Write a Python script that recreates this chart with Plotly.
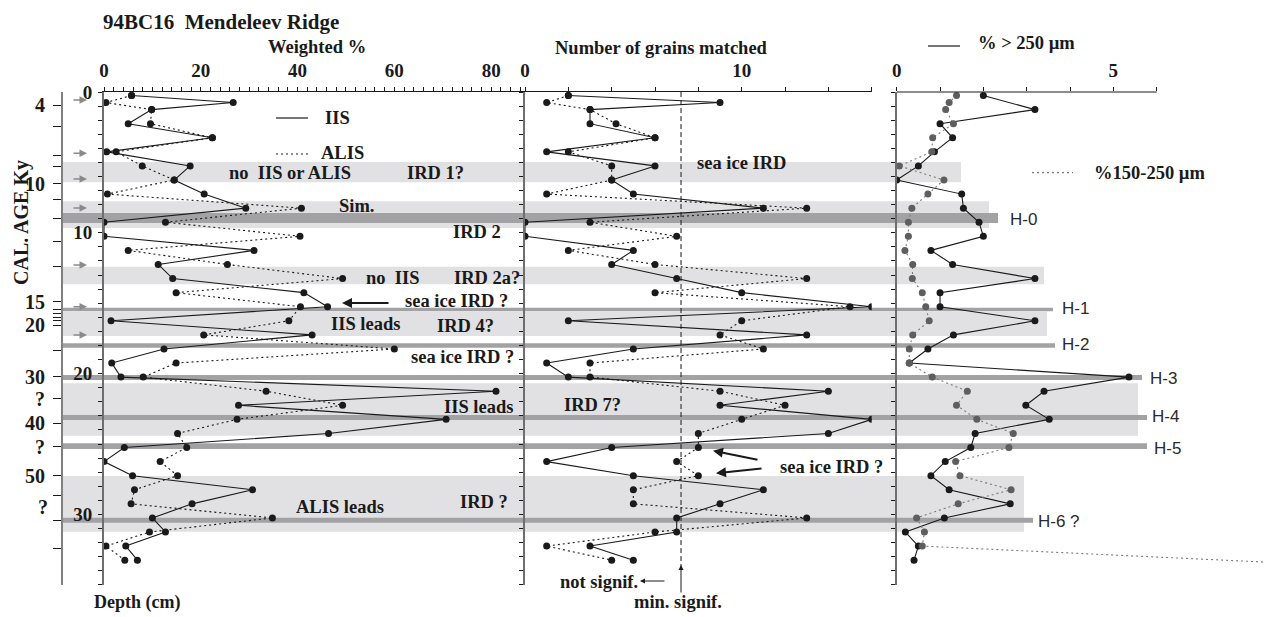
import plotly.graph_objects as go

# ---------------- data ----------------
depth_weighted = [0.25, 0.75, 1.25, 2.25, 3.25, 4.25, 5.25, 6.25, 7.25, 8.25, 9.25, 10.25,
                  11.25, 12.25, 13.25, 14.25, 15.25, 16.25, 17.25, 18.25, 19.25, 20.25,
                  21.25, 22.25, 23.25, 24.25, 25.25, 26.25, 27.25, 28.25, 29.25, 30.25,
                  31.25, 32.25, 33.25]
iis_weighted = [5.7, 26.7, 9.85, 5.0, 22.4, 0.55, 17.8, 14.5, 20.7, 29.3, 0, 0,
                31.0, 11.2, 14.2, 41.3, 46.2, 1.45, 43.0, 12.4, 1.6, 3.5,
                81.0, 27.8, 70.7, 46.4, 4.2, 0, 5.9, 30.7, 18.2, 10.0,
                12.7, 4.5, 6.9]
alis_weighted = [5.7, 0.4, 9.85, 9.6, 22.4, 2.5, 7.9, 14.5, 0.7, 40.8, 12.7, 40.5,
                 5.0, 25.5, 49.3, 14.9, 40.6, 38.2, 20.6, 60.0, 14.9, 8.1,
                 33.5, 49.3, 27.5, 15.2, 17.1, 11.6, 15.2, 6.3, 5.6, 34.8,
                 9.4, 0.4, 4.3]
iis_grains = [2, 9, 3, 3, 6, 1, 6, 4, 5, 11, 0, 0,
              5, 4, 7, 10, 16, 2, 13, 5, 1, 2,
              14, 9, 16, 14, 4, 1, 5, 11, 9, 7,
              7, 3, 5]
alis_grains = [2, 1, 3, 4.2, 6, 2, 4, 4, 1, 13, 3, 7,
               2, 6, 13, 6, 15, 10, 9, 11, 3, 3,
               9, 12, 10, 8, 8, 7, 8, 5, 5, 13,
               6, 1, 4]
min_signif_grains = 7.2

depth_coarse = [0.25, 1.25, 2.25, 3.25, 4.25, 5.25, 6.25, 7.25, 8.25, 9.25, 10.25,
                11.25, 12.25, 13.25, 14.25, 15.25, 16.25, 17.25, 18.25, 19.25, 20.25,
                21.25, 22.25, 23.25, 24.25, 25.25, 26.25, 27.25, 28.25, 29.25, 30.25,
                31.25, 32.25, 33.25]
pct_gt250 = [2.0, 3.19, 1.0, 1.29, 0.87, 0.5, 0, 1.5, 1.54, 1.9, 2.0,
             0.79, 1.29, 3.19, 1.0, 1.0, 3.19, 1.31, 0.72, 0.29, 5.36,
             3.4, 2.98, 3.52, 1.81, 1.71, 1.12, 0.79, 1.21, 2.62, 1.1,
             0.2, 0.5, 0.4]
depth_fine = [0.25, 0.75, 1.25, 2.25, 3.25, 4.25, 5.25, 6.25, 7.25, 8.25, 9.25, 10.25,
              11.25, 12.25, 13.25, 14.25, 15.25, 16.25, 17.25, 18.25, 19.25, 20.25,
              21.25, 22.25, 23.25, 24.25, 25.25, 26.25, 27.25, 28.25, 29.25, 30.25,
              31.25, 32.25, 34.25]
pct_150_250 = [1.38, 1.21, 1.13, 1.31, 0.83, 0.81, 0.06, 1.09, 0.72, 0.35, 0.27, 0.27,
               0.19, 0.37, 0.36, 0.59, 0.67, 0.75, 0.37, 0.29, 0.29, 0.82,
               1.63, 1.38, 1.85, 2.69, 2.59, 1.36, 1.46, 2.64, 1.42, 0.46,
               0.64, 0.59, 14.5]

weighted_labels = ['0', '20', '40', '60', '80']
grains_labels = ['0', '10']
pct_labels = ['0', '5']
depth_labels = ['0', '10', '20', '30']
age_tick_depths = [0.95, 2.42, 4.5, 5.31, 6.51, 7.67, 8.97, 10.63, 12.41, 14.91, 15.43, 15.72,
                   16.0, 16.24, 16.55, 18.37, 20.22, 21.78, 23.53, 25.19, 27.27, 28.69,
                   30.4, 32.41]
age_tick_labels = ['4', '', '', '', '10', '', '', '', '', '15', '', '',
                   '', '', '20', '', '30', '?', '40', '?', '50', '',
                   '', '']

# ---------------- geometry helpers (page pixels -> paper) ----------------
W, H = 1272, 617          # browser window
OX, OY = 8, 8             # default page margin of the html body
FW, FH = W - OX, H - OY   # figure size
def fx(px):
    return (px - OX) / FW
def fy(py):
    return 1 - (py - OY) / FH

Y_TOP, Y_BOT = 92, 584.8
ydom = [fy(Y_BOT), fy(Y_TOP)]
INK = '#1a1a1a'
AXG = '#6e6e6e'
SERIF = 'Liberation Serif'
DOT = '2px,3px'

def ticks(step, last, labels):
    vals = list(range(0, last + 1, step))
    txt = [v if v in labels else '' for v in [str(x) for x in vals]]
    return vals, txt

fig = go.Figure()

# panel 1
fig.add_trace(go.Scatter(x=alis_weighted, y=depth_weighted, xaxis='x', yaxis='y', mode='lines+markers',
                         line=dict(color=INK, width=1.1, dash=DOT), marker=dict(color=INK, size=7)))
fig.add_trace(go.Scatter(x=iis_weighted, y=depth_weighted, xaxis='x', yaxis='y', mode='lines+markers',
                         line=dict(color=INK, width=1.1), marker=dict(color=INK, size=7)))
# panel 2
fig.add_trace(go.Scatter(x=[min_signif_grains, min_signif_grains], y=[0, 33.7], xaxis='x2', yaxis='y2',
                         mode='lines', line=dict(color=INK, width=1, dash='5px,3px')))
fig.add_trace(go.Scatter(x=alis_grains, y=depth_weighted, xaxis='x2', yaxis='y2', mode='lines+markers',
                         line=dict(color=INK, width=1.1, dash=DOT), marker=dict(color=INK, size=7)))
fig.add_trace(go.Scatter(x=iis_grains, y=depth_weighted, xaxis='x2', yaxis='y2', mode='lines+markers',
                         line=dict(color=INK, width=1.1), marker=dict(color=INK, size=7)))
# panel 3
fig.add_trace(go.Scatter(x=pct_gt250, y=depth_coarse, xaxis='x3', yaxis='y3', mode='lines+markers',
                         line=dict(color=INK, width=1.1), marker=dict(color=INK, size=7)))
fig.add_trace(go.Scatter(x=pct_150_250, y=depth_fine, xaxis='x3', yaxis='y3', mode='lines+markers',
                         line=dict(color='#7a7a7a', width=1.1, dash=DOT), marker=dict(color='#5e5e5e', size=7)))
# age axis holder
fig.add_trace(go.Scatter(x=[None], y=[None], xaxis='x', yaxis='y4', mode='markers'))

tickfont = dict(family=SERIF, size=19, color=INK, weight='bold')

def xaxis(domain, rng, step, last, labels, anchor, showline=True):
    vals, txt = ticks(step, last, labels)
    return dict(domain=domain, range=rng, autorange=False, side='top', anchor=anchor,
                tickmode='array', tickvals=vals, ticktext=txt, ticks='outside', ticklen=4,
                tickwidth=1, tickcolor=INK, showline=showline, linecolor=INK, linewidth=1.2,
                showgrid=False, zeroline=False, tickfont=tickfont, ticklabelstandoff=2,
                automargin=False)

def yaxis(anchor, labels=True):
    vals, txt = ticks(1, 35, depth_labels)
    return dict(domain=ydom, range=[35, 0], autorange=False, anchor=anchor,
                tickmode='array', tickvals=vals, ticktext=txt, ticks='outside', ticklen=4,
                tickwidth=1, tickcolor=INK, showline=True, linecolor=AXG, linewidth=2,
                showgrid=False, zeroline=False, showticklabels=labels, tickfont=tickfont,
                ticklabelstandoff=2, automargin=False)

P3_LEFT = 896.7
P3_UNIT = 43.33
fig.update_layout(
    width=FW, height=FH, margin=dict(l=0, r=0, t=0, b=0, pad=0, autoexpand=False),
    paper_bgcolor='white', plot_bgcolor='rgba(0,0,0,0)', showlegend=False,
    xaxis=xaxis([fx(104), fx(525)], [0, 87], 2, 86, weighted_labels, 'y'),
    xaxis2=xaxis([fx(525), fx(871.7)], [0, 16], 2, 16, grains_labels, 'y2'),
    xaxis3=xaxis([fx(P3_LEFT), 1.0], [0, (W - P3_LEFT) / P3_UNIT], 1, 6, pct_labels, 'y3', showline=False),
    yaxis=yaxis('x'),
    yaxis2=yaxis('x2', labels=False),
    yaxis3=yaxis('x3', labels=False),
    yaxis4=dict(overlaying='y', anchor='free', position=fx(62), side='left', range=[35, 0],
                autorange=False, tickmode='array', tickvals=age_tick_depths, ticktext=age_tick_labels,
                ticks='outside', ticklen=8, tickwidth=1, tickcolor=INK, showline=True,
                linecolor='#808080', linewidth=2, showgrid=False, zeroline=False,
                tickfont=dict(family=SERIF, size=20, color=INK, weight='bold'), ticklabelstandoff=4,
                automargin=False),
)

# ---------------- shaded intervals ----------------
LIGHT = '#e1e1e3'
DARK = '#a2a2a5'
light_bands = [(4.97, 6.41, 961), (7.76, 9.66, 989), (12.41, 13.66, 1044), (15.6, 17.33, 1047),
               (20.69, 24.41, 1138), (27.27, 31.23, 1024)]
dark_bands = [(8.59, 9.30, 998), (15.32, 15.58, 1053), (17.85, 18.16, 1055), (20.1, 20.45, 1142),
              (22.94, 23.3, 1147), (24.95, 25.36, 1147), (30.23, 30.59, 1033)]
shapes = []
for y0, y1, xe in light_bands:
    shapes.append(dict(type='rect', xref='paper', yref='y', x0=fx(63), x1=fx(xe), y0=y0, y1=y1,
                       fillcolor=LIGHT, line=dict(width=0), layer='below'))
for y0, y1, xe in dark_bands:
    shapes.append(dict(type='rect', xref='paper', yref='y', x0=fx(63), x1=fx(xe), y0=y0, y1=y1,
                       fillcolor=DARK, line=dict(width=0), layer='below'))
# panel 3 top axis line (only to 6)
shapes.append(dict(type='line', xref='x3', yref='paper', x0=0, x1=6, y0=fy(Y_TOP), y1=fy(Y_TOP),
                   line=dict(color=INK, width=1.2)))
# legend samples
def seg(x0, x1, y, dash=None, color=INK):
    return dict(type='line', xref='paper', yref='paper', x0=fx(x0), x1=fx(x1), y0=fy(y), y1=fy(y),
                line=dict(color=color, width=1.2, dash=dash))
shapes += [seg(276, 308, 118), seg(276, 308, 154, DOT), seg(928, 960, 46),
           seg(1032, 1073, 172.7, DOT, '#7a7a7a')]
fig.update_layout(shapes=shapes)

# ---------------- text ----------------
ann = []
def txt(s, x, y, anchor='left', size=18.5, family=SERIF, weight='bold', color=INK, angle=0):
    ann.append(dict(text=s, x=fx(x), y=fy(y), xref='paper', yref='paper', xanchor=anchor,
                    yanchor='middle', showarrow=False, textangle=angle,
                    font=dict(family=family, size=size, color=color, weight=weight)))

txt('94BC16\u00a0 Mendeleev Ridge', 101, 22, size=21)
txt('Weighted %', 316.7, 47.5, 'center')
txt('Number of grains matched', 661, 48.5, 'center')
txt('% > 250 \u00b5m', 976, 43.5)
txt('%150-250 \u00b5m', 1092, 172.5)
txt('IIS', 323, 118)
txt('ALIS', 319, 153)
txt('no\u00a0 IIS or ALIS', 227, 173)
txt('IRD 1?', 405, 173)
txt('Sim.', 337, 206)
txt('IRD 2', 451, 232)
txt('no\u00a0 IIS', 364, 278)
txt('IRD 2a?', 452, 278)
txt('sea ice IRD ?', 403, 301)
txt('IIS leads', 329, 324)
txt('IRD 4?', 435, 326)
txt('sea ice IRD ?', 409, 357)
txt('IIS leads', 442, 407)
txt('IRD ?', 458, 502)
txt('ALIS leads', 294, 507)
txt('sea ice IRD', 695, 163)
txt('IRD 7?', 562, 405)
txt('sea ice IRD ?', 778, 467)
txt('not signif.', 558, 582)
txt('min. signif.', 632, 602)
txt('Depth (cm)', 137, 602, 'center', size=18)
txt('CAL. AGE Ky', 21, 223, 'center', size=20, angle=-90)
txt('?', 43, 506.7, 'center', size=20)
for s, x, y in [('H-0', 1008, 219), ('H-1', 1060, 309), ('H-2', 1060, 344), ('H-3', 1148, 378),
                ('H-4', 1150, 416), ('H-5', 1152, 448), ('H-6 ?', 1036, 521)]:
    txt(s, x, y, size=17, family='Liberation Sans', weight='normal', color='#2a2a2a')

def arrow(hx, hy, tx, ty, width=2, color=INK, head=2, size=1):
    ann.append(dict(text='', x=fx(hx), y=fy(hy), xref='paper', yref='paper', ax=tx - hx, ay=ty - hy,
                    axref='pixel', ayref='pixel', showarrow=True, arrowhead=head, arrowsize=size,
                    arrowwidth=width, arrowcolor=color))

for py in [100, 153.3, 179, 208, 265, 306.7, 335]:
    arrow(87, py, 72, py, width=1.5, color='#8a8a8a')
arrow(342, 303, 390, 303, width=2)
arrow(713, 450.7, 759, 460, width=2)
arrow(716, 473.3, 763, 468.3, width=2)
arrow(640, 581, 666, 581, width=1)
arrow(681, 565, 681, 594, width=1)

fig.update_layout(annotations=ann)

fig.write_html('out.html')
